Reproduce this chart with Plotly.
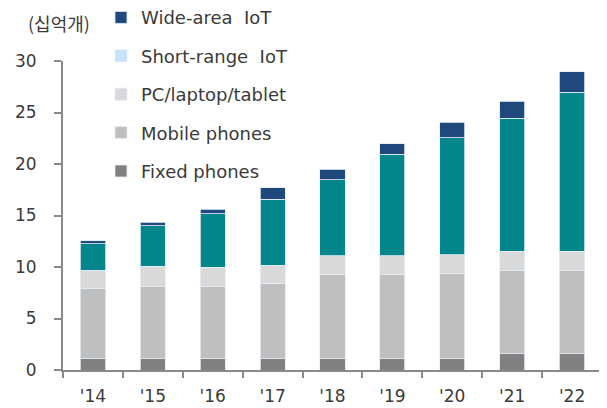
import plotly.graph_objects as go

years = ["'14", "'15", "'16", "'17", "'18", "'19", "'20", "'21", "'22"]
fixed_phones = [1.1, 1.1, 1.1, 1.1, 1.1, 1.1, 1.1, 1.6, 1.6]
mobile_phones = [6.8, 7.05, 7.05, 7.3, 8.15, 8.15, 8.3, 8.1, 8.1]
pc_laptop_tablet = [1.78, 1.93, 1.83, 1.77, 1.83, 1.83, 1.81, 1.84, 1.84]
short_range_iot = [2.58, 3.92, 5.19, 6.43, 7.38, 9.86, 11.33, 12.91, 15.45]
wide_area_iot = [0.29, 0.33, 0.43, 1.08, 1.02, 1.04, 1.53, 1.66, 1.97]

FONT = "DejaVu Sans"
TXT = "#3a3a3a"
edge = dict(color="#e4ecf6", width=0.8)

fig = go.Figure()
fig.add_bar(x=years, y=fixed_phones, name="Fixed phones", marker=dict(color="#808080", line=edge),
            legendgroup="g1", legendrank=5)
fig.add_bar(x=years, y=mobile_phones, name="Mobile phones", marker=dict(color="#bfbfbf", line=edge),
            legendgroup="g2", legendrank=4)
fig.add_bar(x=years, y=pc_laptop_tablet, name="PC/laptop/tablet", marker=dict(color="#d9d9d9", line=edge),
            legendgroup="g3", legendrank=3)
fig.add_bar(x=years, y=short_range_iot, name="Short-range IoT", marker=dict(color="#03868b", line=edge),
            legendgroup="g4", showlegend=False, legendrank=2)
fig.add_bar(x=[None], y=[None], name="Short-range  IoT", marker=dict(color="#c9e2fb"),
            legendgroup="g4", legendrank=2)
fig.add_bar(x=years, y=wide_area_iot, name="Wide-area  IoT", marker=dict(color="#1f487c", line=edge),
            legendgroup="g5", legendrank=1)

# The page body keeps its default 8px margin, so the figure is sized to fit the window.
fig.update_layout(
    width=599, height=400,
    barmode="stack", bargap=0.58,
    paper_bgcolor="white", plot_bgcolor="white",
    margin=dict(l=55, r=5, t=53, b=38, autoexpand=False),
    font=dict(family=FONT, size=17, color=TXT),
    showlegend=True,
    legend=dict(x=0.0705, y=1.2, xanchor="left", yanchor="top",
                traceorder="grouped", tracegroupgap=12,
                font=dict(family=FONT, size=18, color=TXT),
                bgcolor="rgba(0,0,0,0)", itemwidth=30),
    xaxis=dict(type="category", range=[-0.5, 8.5], showline=True, linecolor="#8a8a8a", linewidth=2,
               ticks="outside", tickson="boundaries", ticklen=6, tickcolor="#8a8a8a", tickwidth=2,
               showgrid=False, ticklabelstandoff=10),
    yaxis=dict(range=[0, 30], dtick=5, showline=True, linecolor="#8a8a8a", linewidth=2,
               ticks="outside", ticklen=7, tickcolor="#8a8a8a", tickwidth=2,
               showgrid=False, zeroline=False, ticklabelstandoff=14),
    annotations=[dict(text="(십억개)", xref="paper", yref="paper", x=-0.0074, y=1.17,
                      xanchor="center", yanchor="top", showarrow=False,
                      font=dict(family="Noto Sans CJK KR", size=18, color=TXT))],
)

fig.write_html("out.html")
